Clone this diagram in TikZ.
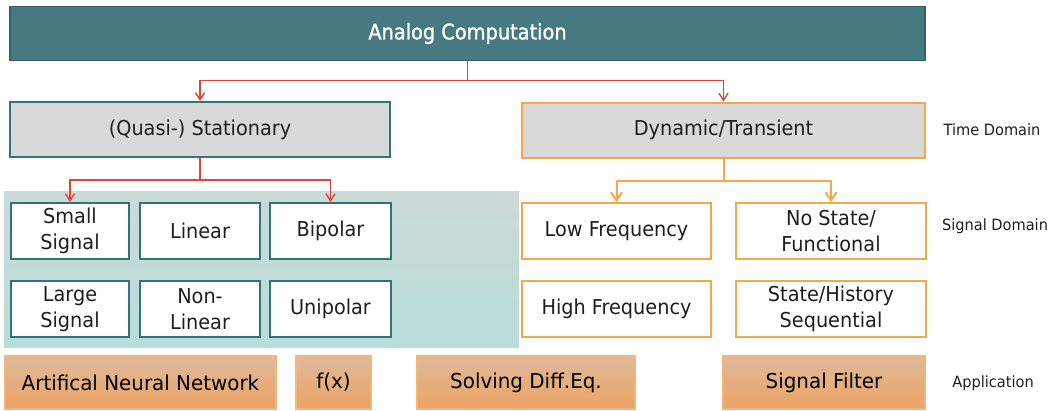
\documentclass[tikz,border=0pt]{standalone}
\usepackage{fontspec}
\setmainfont{DejaVu Sans}[FakeStretch=0.94]
\newfontfamily\topf{DejaVu Sans}[FakeStretch=0.9,FakeBold=1.2]
\newfontfamily\appf{DejaVu Sans}[FakeStretch=0.97]
\usetikzlibrary{arrows.meta}
\definecolor{tealfill}{RGB}{70,121,128}
\definecolor{tealdark}{RGB}{50,96,102}
\definecolor{tealline}{RGB}{50,115,122}
\definecolor{boxgray}{RGB}{217,217,217}
\definecolor{orline}{RGB}{244,168,74}
\definecolor{redline}{RGB}{222,68,56}
\definecolor{paneltop}{RGB}{203,218,216}
\definecolor{panelbot}{RGB}{184,221,218}
\definecolor{apptop}{RGB}{222,186,156}
\definecolor{appbot}{RGB}{236,163,98}
\definecolor{appline}{RGB}{244,182,118}
\definecolor{txt}{RGB}{30,30,30}
\tikzset{
  bx/.style={rectangle, inner sep=0pt, align=center, text=txt,
    font=\fontsize{20.5}{26}\selectfont},
  tealbox/.style={bx, draw=tealline, line width=2pt, fill=white},
  orbox/.style={bx, draw=orline, line width=2pt, fill=white},
  appbox/.style={bx, draw=appline, line width=1.2pt, top color=apptop, bottom color=appbot,
    font=\appf\fontsize{20.5}{26}\selectfont, text=black},
  sidelabel/.style={text=txt, font=\fontsize{15.5}{18}\selectfont},
  redarrow/.style={draw=redline, line width=1.4pt, -{Straight Barb[length=7pt,width=9pt,line width=1.4pt]}},
  redplain/.style={draw=redline, line width=1.4pt},
  orarrow/.style={draw=orline, line width=2pt, -{Straight Barb[length=8pt,width=11pt,line width=2pt]}},
  orplain/.style={draw=orline, line width=2pt},
}
\begin{document}
\begin{tikzpicture}[x=1pt,y=-1pt]
\useasboundingbox (0,0) rectangle (1056,410);
% top
\node[rectangle, draw=tealdark, line width=1.5pt, fill=tealfill, minimum width=915pt, minimum height=54pt,
  text=white, font=\topf\fontsize{21.5}{26}\selectfont] (top) at (467.5,33.5) {Analog Computation};
% level 2
\node[bx, draw=tealline, line width=2pt, fill=boxgray, minimum width=380pt, minimum height=55pt] (stat) at (200,129.5) {(Quasi-) Stationary};
\node[bx, draw=orline, line width=2pt, fill=boxgray, minimum width=403pt, minimum height=55pt] (dyn) at (723.5,130) {Dynamic/Transient};
% panel
\node[rectangle, inner sep=0pt, draw=none, top color=paneltop, bottom color=panelbot, minimum width=515pt, minimum height=156pt] (panel) at (261.5,269) {};
% left boxes
\node[tealbox, minimum width=118pt, minimum height=56pt] (small) at (70,231) {Small\\Signal};
\node[tealbox, minimum width=120pt, minimum height=56pt] (linear) at (200,231) {Linear};
\node[tealbox, minimum width=121pt, minimum height=56pt] (bipolar) at (330.5,231) {Bipolar};
\node[tealbox, minimum width=118pt, minimum height=56pt] (large) at (70,309) {Large\\Signal};
\node[tealbox, minimum width=120pt, minimum height=56pt] (nonlin) at (200,309) {Non-\\Linear};
\node[tealbox, minimum width=121pt, minimum height=56pt] (unipolar) at (330.5,309) {Unipolar};
% right boxes
\node[orbox, minimum width=189pt, minimum height=56pt] (lowf) at (616.5,231) {Low Frequency};
\node[orbox, minimum width=190pt, minimum height=56pt] (nostate) at (831,231) {No State/\\Functional};
\node[orbox, minimum width=189pt, minimum height=56pt] (highf) at (616.5,309) {High Frequency};
\node[orbox, minimum width=190pt, minimum height=56pt] (statehist) at (831,309) {State/History\\Sequential};
% application boxes
\node[appbox, minimum width=271pt, minimum height=53pt] (ann) at (140.5,382.5) {Artifical Neural Network};
\node[appbox, minimum width=75pt, minimum height=53pt] (fx) at (333.5,382.5) {f(x)};
\node[appbox, minimum width=218pt, minimum height=53pt] (solve) at (526,382.5) {Solving Diff.Eq.};
\node[appbox, minimum width=202pt, minimum height=53pt] (filter) at (824,382.5) {Signal Filter};
% side labels
\node[sidelabel] (timelbl) at (992,130) {Time Domain};
\node[sidelabel] (siglbl) at (995,226) {Signal Domain};
\node[sidelabel] (applbl) at (993,383) {Application};
% connectors
\coordinate (j1) at (467.5,80.5);
\coordinate (j2) at (200,180);
\coordinate (j3) at (723.5,181);
\draw[redplain] (top.south) -- (j1);
\draw[redarrow] (j1) -| (stat.north);
\draw[redarrow] (j1) -| (dyn.north);
\draw[redplain] (stat.south) -- (j2);
\draw[redarrow] (j2) -| (small.north);
\draw[redarrow] (j2) -| (bipolar.north);
\draw[orplain] (dyn.south) -- (j3);
\draw[orarrow] (j3) -| (lowf.north);
\draw[orarrow] (j3) -| (nostate.north);
\end{tikzpicture}
\end{document}
